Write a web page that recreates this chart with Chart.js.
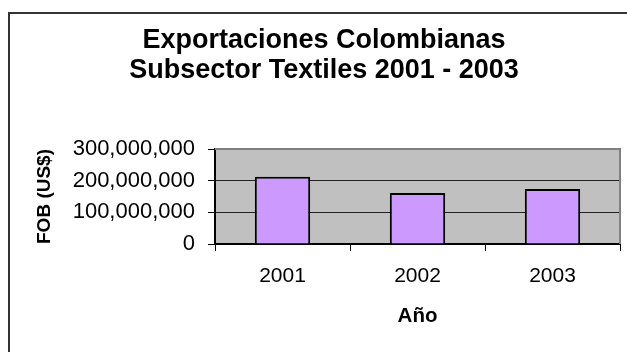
<!DOCTYPE html>
<html>
<head>
<meta charset="utf-8">
<title>Exportaciones Colombianas - Textiles</title>
<script src="https://cdn.jsdelivr.net/npm/chart.js@4.4.0/dist/chart.umd.min.js"></script>
<style>
    html, body { margin: 0; padding: 0; background: #fff; }
    #wrap { width: 627px; height: 352px; overflow: hidden; }
    canvas { display: block; }
</style>
</head>
<body>
<div id="wrap"><canvas id="exportChart" width="627" height="352"></canvas></div>
<script>
// Datos del gráfico
const years = ['2001', '2002', '2003'];
const fobValues = [212000000, 161000000, 174000000];
const yTickValues = [0, 100000000, 200000000, 300000000];
const titleLines = ['Exportaciones Colombianas', 'Subsector Textiles 2001 - 2003'];
const xAxisTitle = 'Año';
const yAxisTitle = 'FOB (US$)';

const FONT = '"Liberation Sans", Arial, sans-serif';

/**
 * Fondo gris del área de trazado y marco exterior
 */
const plotFrame = {
    id: 'plotFrame',
    beforeDraw(chart) {
        const { ctx, chartArea: a } = chart;
        ctx.save();
        ctx.fillStyle = '#fff';
        ctx.fillRect(0, 0, chart.width, chart.height);
        // marco del gráfico
        ctx.strokeStyle = '#333';
        ctx.lineWidth = 2;
        ctx.beginPath();
        ctx.moveTo(9, chart.height + 5);
        ctx.lineTo(9, 13);
        ctx.lineTo(chart.width + 5, 13);
        ctx.stroke();
        // área de trazado
        ctx.fillStyle = '#C0C0C0';
        ctx.fillRect(a.left, a.top, a.right - a.left, a.bottom - a.top);
        ctx.restore();
    },
    afterDraw(chart) {
        const { ctx, chartArea: a } = chart;
        ctx.save();
        ctx.strokeStyle = '#808080';
        ctx.lineWidth = 2;
        ctx.beginPath();
        ctx.moveTo(a.left, a.top);
        ctx.lineTo(a.right, a.top);
        ctx.lineTo(a.right, a.bottom);
        ctx.stroke();
        ctx.restore();
    }
};

new Chart(document.getElementById('exportChart'), {
    type: 'bar',
    data: {
        labels: years,
        datasets: [{
            data: fobValues,
            backgroundColor: '#CC99FF',
            borderColor: '#000',
            borderWidth: 2,
            categoryPercentage: 1,
            barPercentage: 0.41
        }]
    },
    options: {
        responsive: false,
        animation: false,
        layout: {
            padding: { left: 28, right: 7, top: 0, bottom: 0 }
        },
        plugins: {
            legend: { display: false },
            tooltip: { enabled: false },
            title: {
                display: true,
                text: titleLines,
                color: '#000',
                font: { family: FONT, size: 27, weight: 'bold', lineHeight: 1.1 },
                padding: { top: 26, bottom: 63.6 }
            }
        },
        scales: {
            x: {
                afterFit: (scale) => { scale.height = 108; },
                grid: {
                    drawOnChartArea: false,
                    drawTicks: true,
                    tickLength: 7,
                    tickColor: '#000',
                    lineWidth: 1
                },
                border: { color: '#000', width: 2 },
                ticks: {
                    color: '#000',
                    padding: 13,
                    font: { family: FONT, size: 21 }
                },
                title: {
                    display: true,
                    text: xAxisTitle,
                    color: '#000',
                    font: { family: FONT, size: 20.5, weight: 'bold', lineHeight: 1.2 },
                    padding: { top: 0, bottom: 23 }
                }
            },
            y: {
                min: 0,
                max: 300000000,
                afterFit: (scale) => { scale.width = 187; },
                afterBuildTicks: (scale) => {
                    scale.ticks = yTickValues.map(v => ({ value: v }));
                },
                grid: {
                    color: '#222',
                    lineWidth: 1,
                    tickLength: 7,
                    tickColor: '#000'
                },
                border: { color: '#000', width: 2 },
                ticks: {
                    color: '#000',
                    padding: 13,
                    font: { family: FONT, size: 22 },
                    callback: (v) => Number(v).toLocaleString('en-US')
                },
                title: {
                    display: true,
                    text: yAxisTitle,
                    color: '#000',
                    font: { family: FONT, size: 19, weight: 'bold', lineHeight: 1.2 },
                    padding: { top: 5, bottom: 0 }
                }
            }
        }
    },
    plugins: [plotFrame]
});
</script>
</body>
</html>
